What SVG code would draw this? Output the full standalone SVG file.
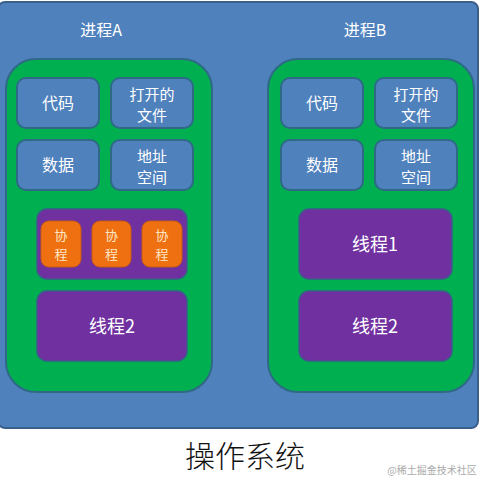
<svg xmlns="http://www.w3.org/2000/svg" width="480" height="480" viewBox="0 0 480 480">
<style>
text{font-family:"Noto Sans CJK SC","Liberation Sans",sans-serif;text-anchor:middle;}
.os{fill:#4f81bd;stroke:#3a5f8b;stroke-width:2;}
.proc{fill:#00b050;stroke:#2e6a86;stroke-width:2;}
.box{fill:#4f81bd;stroke:#2e6a86;stroke-width:2;}
.thr{fill:#7030a0;stroke:#3d5a8a;stroke-width:1.5;}
.co{fill:#ee7010;stroke:#c85a10;stroke-width:1;}
.lbl{fill:#ffffff;font-size:16px;}
.ml{fill:#ffffff;font-size:15px;}
.tl{fill:#ffffff;font-size:18px;}
.cl{fill:#ffe8c8;font-size:13px;}
</style>
<rect width="480" height="480" fill="#ffffff"/>
<g id="os">
<rect class="os" x="-2" y="2" width="480" height="426" rx="7"/>
<text x="245" y="467" style="font-size:30px;font-weight:300;fill:#111;">操作系统</text>
</g>
<g id="processA">
<rect class="proc" x="6" y="59" width="206" height="333" rx="30"/>
<text class="lbl" x="101" y="36">进程A</text>
</g>
<g id="A-code"><rect class="box" x="17" y="78" width="82" height="50" rx="9"/><text class="lbl" x="58" y="109">代码</text></g>
<g id="A-files"><rect class="box" x="111" y="78" width="82" height="50" rx="9"/><text class="ml" x="152" y="100">打开的</text><text class="ml" x="152" y="121">文件</text></g>
<g id="A-data"><rect class="box" x="17" y="140" width="82" height="50" rx="9"/><text class="lbl" x="58" y="171">数据</text></g>
<g id="A-addr"><rect class="box" x="111" y="140" width="82" height="50" rx="9"/><text class="ml" x="152" y="162">地址</text><text class="ml" x="152" y="183">空间</text></g>
<g id="A-thread1">
<rect class="thr" x="37" y="209" width="150" height="70" rx="10"/>
</g>
<g id="A-co1"><rect class="co" x="41" y="221" width="40" height="46" rx="8"/><text class="cl" x="61" y="240">协</text><text class="cl" x="61" y="259">程</text></g>
<g id="A-co2"><rect class="co" x="92" y="221" width="39" height="46" rx="8"/><text class="cl" x="111.5" y="240">协</text><text class="cl" x="111.5" y="259">程</text></g>
<g id="A-co3"><rect class="co" x="142" y="221" width="40" height="46" rx="8"/><text class="cl" x="162" y="240">协</text><text class="cl" x="162" y="259">程</text></g>
<g id="A-thread2"><rect class="thr" x="37" y="291" width="150" height="70" rx="10"/><text class="tl" x="112" y="333">线程2</text></g>
<g id="processB">
<rect class="proc" x="268" y="59" width="206" height="333" rx="30"/>
<text class="lbl" x="365" y="36">进程B</text>
</g>
<g id="B-code"><rect class="box" x="281" y="78" width="82" height="50" rx="9"/><text class="lbl" x="322" y="109">代码</text></g>
<g id="B-files"><rect class="box" x="375" y="78" width="82" height="50" rx="9"/><text class="ml" x="416" y="100">打开的</text><text class="ml" x="416" y="121">文件</text></g>
<g id="B-data"><rect class="box" x="281" y="140" width="82" height="50" rx="9"/><text class="lbl" x="322" y="171">数据</text></g>
<g id="B-addr"><rect class="box" x="375" y="140" width="82" height="50" rx="9"/><text class="ml" x="416" y="162">地址</text><text class="ml" x="416" y="183">空间</text></g>
<g id="B-thread1"><rect class="thr" x="299" y="209" width="153" height="70" rx="10"/><text class="tl" x="375" y="251">线程1</text></g>
<g id="B-thread2"><rect class="thr" x="299" y="291" width="153" height="70" rx="10"/><text class="tl" x="375" y="333">线程2</text></g>
<g id="connectors"></g>
<text x="432" y="474" style="font-size:10px;fill:#aaaaaa;">@稀土掘金技术社区</text>
</svg>
